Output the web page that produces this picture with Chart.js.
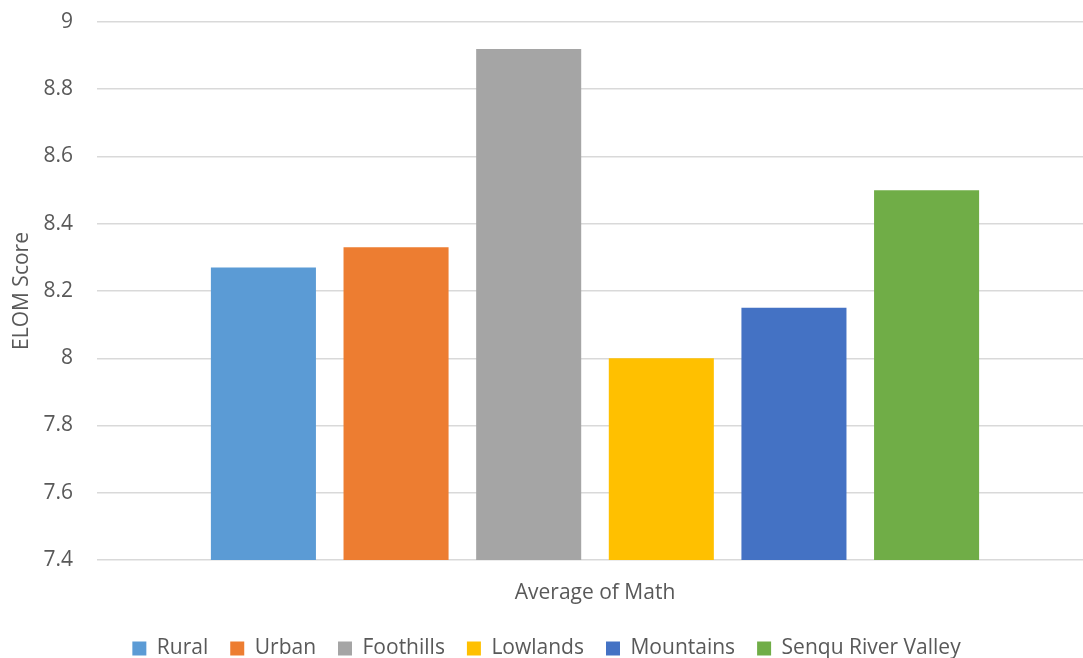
<!DOCTYPE html>
<html>
<head>
<meta charset="utf-8">
<title>ELOM Score – Average of Math</title>
<script src="https://cdn.jsdelivr.net/npm/chart.js@4/dist/chart.umd.min.js"></script>
<style>
    html, body { margin: 0; padding: 0; background: #ffffff; overflow: hidden; }
    /* plot runs slightly past the right edge of the window */
    #wrap { width: 1093px; height: 658px; position: relative; }
</style>
</head>
<body>
<div id="wrap"><canvas id="mathChart"></canvas></div>
<script>
// ─── Data ──────────────────────────────────────────────
const categories = ['Average of Math'];
const regions = ['Rural', 'Urban', 'Foothills', 'Lowlands', 'Mountains', 'Senqu River Valley'];
const mathScores = [8.27, 8.33, 8.92, 8.00, 8.15, 8.50];
const regionColors = ['#5B9BD5', '#ED7D31', '#A5A5A5', '#FFC000', '#4472C4', '#70AD47'];
const yTickValues = [7.4, 7.6, 7.8, 8, 8.2, 8.4, 8.6, 8.8, 9];

const textColor = '#595959';
const gridColor = '#d9d9d9';
const baseFont = { family: "'Open Sans', sans-serif", size: 21 };

// one dataset per region so each gets its own legend entry
const datasets = regions.map((name, i) => ({
    label: name,
    data: [mathScores[i]],
    backgroundColor: regionColors[i],
    borderWidth: 0,
    categoryPercentage: 0.799,
    barPercentage: 0.792
}));

new Chart(document.getElementById('mathChart'), {
    type: 'bar',
    data: { labels: categories, datasets: datasets },
    options: {
        responsive: true,
        maintainAspectRatio: false,
        animation: false,
        layout: { padding: { top: 22, right: 0, bottom: -11, left: 0 } },
        plugins: {
            legend: {
                position: 'bottom',
                labels: {
                    boxWidth: 14,
                    boxHeight: 14,
                    padding: 22,
                    color: textColor,
                    font: baseFont
                }
            },
            tooltip: { enabled: false }
        },
        scales: {
            x: {
                grid: { display: false },
                border: { display: false },
                ticks: { color: textColor, font: baseFont, padding: 12 },
                afterFit: scale => { scale.height = 56; }
            },
            y: {
                min: 7.4,
                max: 9,
                afterBuildTicks: scale => {
                    scale.ticks = yTickValues.map(v => ({ value: v }));
                },
                ticks: {
                    color: textColor,
                    font: baseFont,
                    padding: 9,
                    callback: v => String(Math.round(v * 10) / 10)
                },
                // invisible tick marks keep the labels clear of the plot
                grid: { color: gridColor, lineWidth: 1.5, tickLength: 15, tickColor: 'rgba(0,0,0,0)' },
                border: { display: false },
                title: {
                    display: true,
                    text: 'ELOM Score',
                    color: textColor,
                    font: baseFont,
                    padding: { top: 9, bottom: 0 }
                },
                afterFit: scale => { scale.width = 97; }
            }
        }
    }
});
</script>
</body>
</html>
